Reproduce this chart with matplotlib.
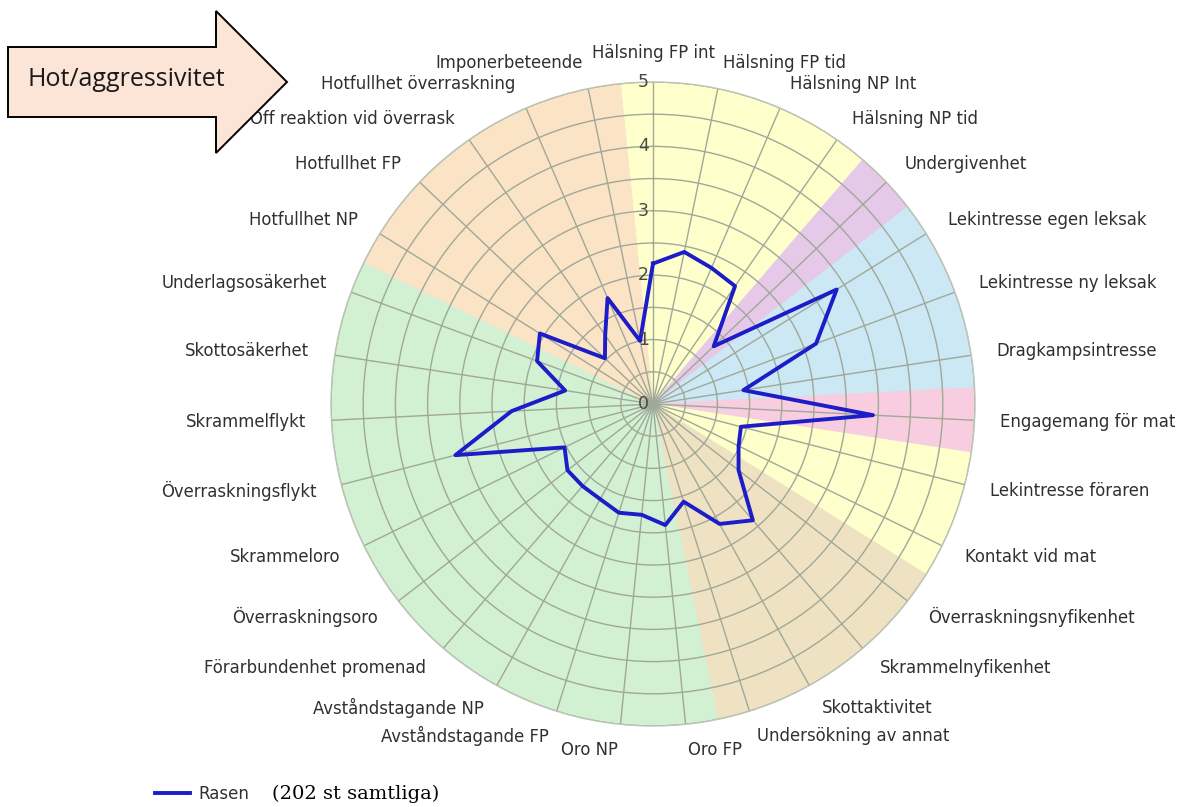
import numpy as np
import matplotlib.pyplot as plt
from matplotlib.patches import Polygon

labels = [
    'Hälsning FP int', 'Hälsning FP tid', 'Hälsning NP Int', 'Hälsning NP tid',
    'Undergivenhet', 'Lekintresse egen leksak', 'Lekintresse ny leksak',
    'Dragkampsintresse', 'Engagemang för mat', 'Lekintresse föraren',
    'Kontakt vid mat', 'Överraskningsnyfikenhet', 'Skrammelnyfikenhet',
    'Skottaktivitet', 'Undersökning av annat', 'Oro FP', 'Oro NP',
    'Avståndstagande FP', 'Avståndstagande NP', 'Förarbundenhet promenad',
    'Överraskningsoro', 'Skrammeloro', 'Överraskningsflykt', 'Skrammelflykt',
    'Skottosäkerhet', 'Underlagsosäkerhet', 'Hotfullhet NP', 'Hotfullhet FP',
    'Off reaktion vid överrask', 'Hotfullhet överraskning', 'Imponerbeteende',
]
values = [2.18, 2.41, 2.30, 2.23, 1.30, 3.36, 2.70, 1.42, 3.42, 1.41,
          1.48, 1.68, 2.38, 2.13, 1.59, 1.89, 1.73, 1.77, 1.69, 1.68,
          1.68, 1.53, 3.17, 2.20, 1.38, 1.92, 2.07, 1.03, 1.30, 1.79, 1.00]
# which colour band each category sits in
groups = (['halsning'] * 4 + ['under'] + ['lek'] * 3 + ['mat'] + ['kontakt'] * 2
          + ['nyfiken'] * 4 + ['oro'] * 11 + ['hot'] * 5)
group_colors = {
    'halsning': '#ffffcc',
    'under': '#e6c9e8',
    'lek': '#cce8f4',
    'mat': '#f8cde0',
    'kontakt': '#ffffcc',
    'nyfiken': '#efe2c2',
    'oro': '#d2f0d2',
    'hot': '#fbe3c6',
}
rticks = [0, 1, 2, 3, 4, 5]
series_name = 'Rasen'
note = '(202 st samtliga)'
arrow_text = 'Hot/aggressivitet'

n = len(labels)
theta = np.arange(n) * 2 * np.pi / n

fig = plt.figure(figsize=(11.8, 8.07), dpi=100)
ax = fig.add_axes([0.2805, 0.1004, 0.5458, 0.798], projection='polar')
ax.set_theta_zero_location('N')
ax.set_theta_direction(-1)
ax.set_facecolor('none')

band = [group_colors[g] for g in groups]
ax.bar(theta, 5, width=2 * np.pi / n, bottom=0, color=band, edgecolor=band,
       linewidth=0.6, zorder=0.5)
line, = ax.plot(np.append(theta, theta[0]), values + values[:1],
                color='#1c1cc8', lw=2.8, zorder=3, label=series_name)

ax.set_ylim(0, 5)
ax.set_xticks(theta)
ax.set_xticklabels([])
ax.set_yticks(np.arange(0.5, 5.01, 0.5))
ax.set_yticklabels([])
ax.grid(True, color='#a0a898', lw=1.0)
ax.spines['polar'].set_color('#bcc4b6')
ax.spines['polar'].set_linewidth(1.0)

for r in rticks:
    ax.annotate(str(r), (0, r), xytext=(-7, 0), textcoords='offset points',
                ha='center', va='center', fontsize=12.5, color='#4a4a40')

for t, lab in zip(theta, labels):
    deg = np.degrees(t)
    if deg < 1:
        ha, rr = 'center', 5.45
    elif deg < 180:
        ha, rr = 'left', 5.4
    else:
        ha, rr = 'right', 5.4
    ax.text(t, rr, lab, ha=ha, va='center', fontsize=11.9, color='#303030')

fig.legend(handles=[line], loc='center left',
           bbox_to_anchor=(155 / 1180, 1 - 794 / 807), frameon=False,
           borderpad=0, borderaxespad=0, handlelength=2.1, handletextpad=0.5,
           fontsize=12, labelcolor='#303030')
fig.text(272 / 1180, 1 - 794 / 807, note, family='DejaVu Serif', fontsize=14,
         va='center', ha='left')

# block arrow in the top-left corner, drawn in pixel units
ov = fig.add_axes([0, 0, 1, 1], zorder=5)
ov.set_xlim(0, 1180)
ov.set_ylim(807, 0)
ov.axis('off')
ov.add_patch(Polygon([(8, 47), (216, 47), (216, 11), (287, 82), (216, 153),
                      (216, 117), (8, 117)], closed=True,
                     fc='#fce4d6', ec='black', lw=1.4))
ov.text(27, 79, arrow_text, family='Open Sans', fontsize=18,
        va='center', ha='left', color='#1a1a1a')

fig.savefig('out.png', dpi=100)
